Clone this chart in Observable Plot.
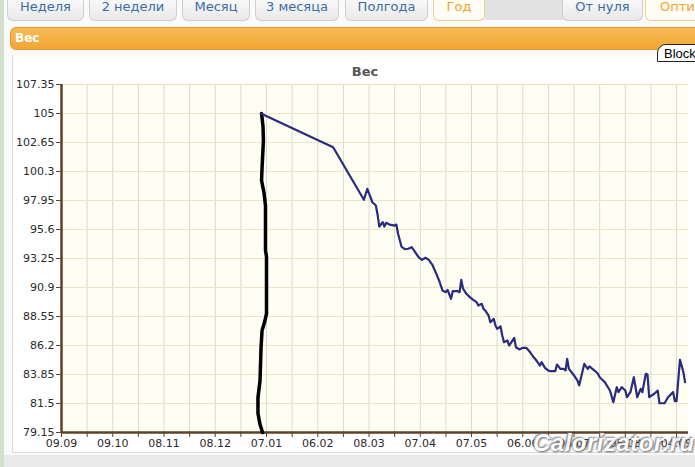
<!DOCTYPE html>
<html><head><meta charset="utf-8">
<script src="https://cdn.jsdelivr.net/npm/d3@7"></script>
<script src="https://cdn.jsdelivr.net/npm/@observablehq/plot@0.6"></script>
<style>
body{margin:0;width:695px;height:467px;overflow:hidden;background:#e9e9e9;position:relative;font-family:"DejaVu Sans",Verdana,sans-serif}
#stripe{position:absolute;left:0;top:0;width:4px;height:467px;background:#d3dfcc}
#bg{position:absolute;left:4px;top:0;right:0;height:455px;background:#fafafa}
.tab{position:absolute;top:-4px;height:25px;box-sizing:border-box;border:1px solid #cfcfcf;border-top:none;border-radius:0 0 6px 6px;background:linear-gradient(#fbfbfb,#e9e9e9);color:#3d6ca6;font-size:13px;text-align:center;line-height:21px;white-space:nowrap;overflow:hidden}
.tab.on{background:#fffdf6;color:#f3a229;border-color:#f1cf95}
#gap{position:absolute;left:485px;top:0;width:78px;height:20px;background:#e2e2e2}
#bar{position:absolute;left:10px;top:27px;width:700px;height:23px;box-sizing:border-box;border:1px solid #e39a2c;border-radius:6px;background:linear-gradient(#f9bb55,#f2a634);color:#fff;font-weight:bold;font-size:12px;line-height:21px;padding-left:4px}
#panel{position:absolute;left:12px;top:55px;right:0;height:397px;background:#fff;border-left:1px solid #dcdcdc;border-bottom:1px solid #dcdcdc}
#block{position:absolute;left:657px;top:44px;width:50px;height:18px;box-sizing:border-box;border:1px solid #222;border-radius:9px 0 0 0;background:#fff;font:13px "Liberation Sans",Arial,sans-serif;color:#000;padding-left:6px;line-height:17px}
#title{position:absolute;left:0;width:730px;top:64px;text-align:center;font-weight:bold;font-size:13px;color:#555}
#chart{position:absolute;left:0;top:62px}
#wm{position:absolute;left:533px;top:429px;font:italic bold 24px "Liberation Sans",Arial,sans-serif;color:#fff;text-shadow:1px 1px 2px #555,-1px -1px 2px #777;opacity:.92;letter-spacing:0.5px}
</style></head><body>
<div id="stripe"></div>
<div id="bg"></div>
<div id="gap"></div>
<div class="tab" style="left:7px;width:77px">Неделя</div>
<div class="tab" style="left:89px;width:88px">2 недели</div>
<div class="tab" style="left:182px;width:68px">Месяц</div>
<div class="tab" style="left:255px;width:84px">3 месяца</div>
<div class="tab" style="left:345px;width:83px">Полгода</div>
<div class="tab on" style="left:433px;width:52px">Год</div>
<div class="tab" style="left:562px;width:81px">От нуля</div>
<div class="tab on" style="left:645px;width:110px;text-align:left;padding-left:14px">Оптимально</div>
<div id="bar">Вес</div>
<div id="panel"></div>
<div id="title">Вес</div>
<div id="chart"></div>
<div id="block">Block</div>
<div id="wm">Calorizator.ru</div>
<script>
const startDate = "2012-09-09";
const endDate = "2013-09-11";

const weightDates = ["2013-01-04","2013-02-15","2013-03-05","2013-03-07","2013-03-08","2013-03-10","2013-03-12","2013-03-13","2013-03-14","2013-03-16","2013-03-17","2013-03-18","2013-03-20","2013-03-23","2013-03-24","2013-03-25","2013-03-27","2013-03-29","2013-03-31","2013-04-02","2013-04-04","2013-04-06","2013-04-08","2013-04-10","2013-04-12","2013-04-14","2013-04-16","2013-04-18","2013-04-20","2013-04-22","2013-04-23","2013-04-25","2013-04-26","2013-04-29","2013-04-30","2013-05-01","2013-05-02","2013-05-04","2013-05-06","2013-05-08","2013-05-10","2013-05-11","2013-05-13","2013-05-14","2013-05-15","2013-05-17","2013-05-18","2013-05-20","2013-05-21","2013-05-22","2013-05-24","2013-05-25","2013-05-26","2013-05-28","2013-05-29","2013-05-30","2013-06-01","2013-06-02","2013-06-04","2013-06-06","2013-06-08","2013-06-10","2013-06-12","2013-06-14","2013-06-16","2013-06-17","2013-06-19","2013-06-21","2013-06-22","2013-06-25","2013-06-26","2013-06-28","2013-06-30","2013-07-01","2013-07-02","2013-07-03","2013-07-06","2013-07-08","2013-07-09","2013-07-12","2013-07-14","2013-07-15","2013-07-18","2013-07-20","2013-07-21","2013-07-23","2013-07-24","2013-07-27","2013-07-29","2013-07-31","2013-08-01","2013-08-03","2013-08-05","2013-08-06","2013-08-08","2013-08-10","2013-08-12","2013-08-14","2013-08-15","2013-08-17","2013-08-18","2013-08-19","2013-08-22","2013-08-24","2013-08-25","2013-08-28","2013-08-30","2013-09-02","2013-09-03","2013-09-04","2013-09-06","2013-09-08","2013-09-09"];
const weights = [104.98,102.27,98.01,98.90,98.52,97.81,97.55,96.82,95.84,96.19,95.84,96.14,96.00,95.92,96.00,95.25,94.22,94.00,94.04,94.17,93.76,93.36,93.14,93.31,93.14,92.76,92.14,91.47,90.66,90.52,90.71,89.98,90.60,90.60,90.52,91.52,90.82,90.39,90.12,89.90,89.71,89.44,89.58,89.17,89.04,88.63,88.09,88.36,87.82,87.55,87.74,87.01,86.47,86.61,86.20,86.39,86.82,86.06,85.88,86.01,86.01,85.71,85.31,84.98,84.58,84.85,84.39,84.17,84.12,84.12,84.66,84.31,84.30,84.17,85.11,84.31,83.77,83.36,82.96,84.72,84.31,84.50,84.17,83.91,83.63,83.36,83.23,82.55,81.61,82.82,82.42,82.82,82.55,82.01,82.42,83.63,82.01,82.69,82.42,83.91,83.85,82.01,82.29,82.55,81.52,81.52,82.01,82.42,81.69,81.69,85.04,84.04,83.23];

// hand-drawn black stroke (days since startDate, weight)
const markerDays = [117.1,117.95,118.2,117.4,117.1,118.5,119.4,119.4,120.0,120.0,118.8,117.4,116.8,116.2,115.0,115.0,116.2,117.7];
const markerWeights = [105.0,103.95,102.81,100.62,99.57,98.60,97.55,93.90,93.41,88.79,88.06,87.42,86.04,83.36,81.99,80.69,79.80,79.15];

const yTicks = [79.15,81.5,83.85,86.2,88.55,90.9,93.25,95.6,97.95,100.3,102.65,105,107.35];
const xTickDates = ["2012-09-09","2012-10-09","2012-11-08","2012-12-08","2013-01-07","2013-02-06","2013-03-08","2013-04-07","2013-05-07","2013-06-06","2013-07-06","2013-08-05","2013-09-04"];
const xTickLabels = ["09.09","09.10","08.11","08.12","07.01","06.02","08.03","07.04","07.05","06.06","06.07","05.08","04.09"];

const t0 = new Date(startDate), t1 = new Date(endDate);
const series = weightDates.map((d,i)=>({date:new Date(d), w:weights[i]}));
const marker = markerDays.map((d,i)=>({date:new Date(+t0 + d*864e5), w:markerWeights[i]}));
const majors = xTickDates.map(d=>new Date(d));
const minors = majors.map(d=>d3.utcDay.offset(d,15)).filter(d=>d<=t1);
const allTicks = majors.concat(minors);
const labelOf = new Map(majors.map((d,i)=>[+d, xTickLabels[i]]));
const brown = "#5e4129";

const chart = Plot.plot({
  width: 695, height: 392,
  marginLeft: 61, marginRight: 7, marginTop: 22, marginBottom: 22,
  style: {fontFamily: '"DejaVu Sans", Verdana, sans-serif', fontSize: "11px", background: "transparent", overflow: "visible"},
  x: {type: "utc", domain: [t0, t1], label: null},
  y: {domain: [79.15, 107.35], label: null},
  marks: [
    Plot.frame({fill: "#fffef3", stroke: null}),
    Plot.gridX(allTicks, {stroke: "#d9d9d6", strokeOpacity: 1}),
    Plot.gridY(yTicks, {stroke: "#ebe5c3", strokeOpacity: 1}),
    Plot.axisY(yTicks, {label: null, tickFormat: d => String(d), tickSize: 5, tickPadding: 2, stroke: brown, fill: "#2a2a2a", fontSize: 11}),
    Plot.axisX(majors, {label: null, tickFormat: d => labelOf.get(+d), tickSize: 5, tickPadding: 2, stroke: brown, fill: "#2a2a2a", fontSize: 11}),
    Plot.axisX(minors, {label: null, tickFormat: () => "", tickSize: 5, stroke: brown}),
    Plot.ruleY([79.15], {stroke: brown, strokeWidth: 2.5}),
    Plot.ruleX([t0], {stroke: brown, strokeWidth: 2.5}),
    Plot.line(marker, {x: "date", y: "w", stroke: "#000", strokeWidth: 3.5, strokeLinecap: "round", strokeLinejoin: "round"}),
    Plot.line(series, {x: "date", y: "w", stroke: "#2a2a80", strokeWidth: 2.2, strokeLinejoin: "round"})
  ]
});
document.getElementById("chart").appendChild(chart);
</script>
</body></html>
